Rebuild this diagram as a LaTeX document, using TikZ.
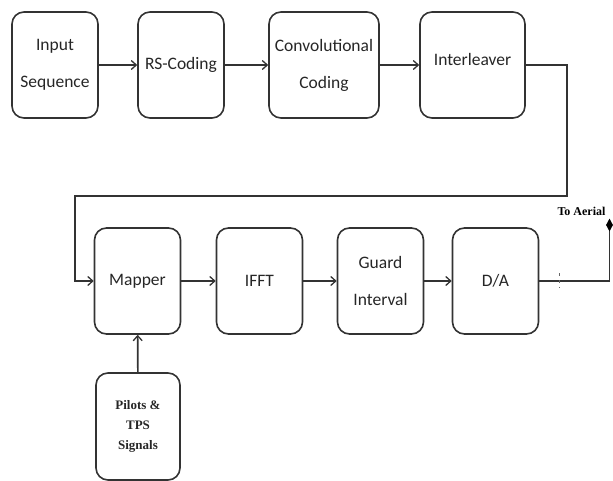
\documentclass[tikz,border=0pt]{standalone}
\usepackage{fontspec}
\setmainfont{Carlito}
\newfontfamily\serifbold{Liberation Serif}
\usetikzlibrary{arrows.meta,shapes.geometric}
\begin{document}
\begin{tikzpicture}[x=1pt,y=-1pt,
  blk/.style={draw=black!80, line width=1.6pt, rounded corners=12pt,
    minimum width=86pt, minimum height=106pt, inner sep=0pt,
    align=center, font=\fontsize{17.5}{37}\selectfont, text=black!85},
  wire/.style={draw=black!80, line width=1.6pt},
  arr/.style={wire, -{Straight Barb[length=5pt,width=9pt,line width=1.3pt]}}]
\useasboundingbox (0,0) rectangle (613,481);
% first row
\node[blk] (inp) at (55,65) {Input\\Sequence};
\node[blk] (rs) at (181,65) {RS-Coding};
\node[blk, minimum width=110pt] (conv) at (324,65) {Convolutional\\Coding};
\node[blk, minimum width=105pt] (intl) at (472.5,65) {\raisebox{11pt}{Interleaver}};
% second row
\node[blk] (map) at (137.5,281) {Mapper};
\node[blk] (ifft) at (259.5,281) {IFFT};
\node[blk] (gi) at (380.5,281) {Guard\\Interval};
\node[blk] (da) at (495.5,281) {D/A};
\node[blk, minimum width=84pt, minimum height=107pt,
  font=\serifbold\bfseries\fontsize{13}{20}\selectfont] (pil) at (138,426.5)
  {Pilots \&\\TPS\\Signals};
% connectors
\draw[arr] (inp) -- (rs);
\draw[arr] (rs) -- (conv);
\draw[arr] (conv) -- (intl);
\coordinate (t1) at (567,65);
\coordinate (t2) at (567,196);
\coordinate (t3) at (75,196);
\coordinate (t4) at (75,281);
\draw[arr] (intl.east) -- (t1) -- (t2) -- (t3) -- (t4) -- (map.west);
\draw[arr] (map) -- (ifft);
\draw[arr] (ifft) -- (gi);
\draw[arr] (gi) -- (da);
\draw[arr] (pil) -- (map);
% output to the aerial
\coordinate (ae) at (609.5,225);
\draw[wire] (da.east) -- (ae |- da.east) -- (ae);
\node[diamond, fill=black, inner sep=0pt, minimum width=7pt, minimum height=13pt] (tip) at (ae) {};
\node[font=\serifbold\bfseries\fontsize{12}{13}\selectfont, anchor=base] (lab) at (581.5,215) {To Aerial};
\draw[black!60, line width=0.6pt, dash pattern=on 3pt off 4pt] (559,273) -- (559,288);
\end{tikzpicture}
\end{document}
